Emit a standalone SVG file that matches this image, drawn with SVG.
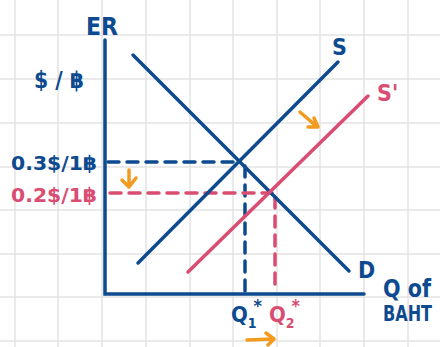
<svg xmlns="http://www.w3.org/2000/svg" width="440" height="347" viewBox="0 0 440 347">
<style>
.grid{stroke:#e3e3e3;stroke-width:1.5}
.blue{stroke:#0d4a8f;stroke-width:3.5;fill:none;stroke-linecap:round}
.pink{stroke:#d94d72;stroke-width:3.5;fill:none;stroke-linecap:round}
.dash{stroke-dasharray:11 8}
.orange{stroke:#f29b1e;stroke-width:3.5;fill:none;stroke-linecap:round;stroke-linejoin:round}
text{font-family:"DejaVu Sans Condensed","DejaVu Sans",sans-serif;font-weight:bold}
.tb{fill:#0d4a8f}
.tp{fill:#d94d72}
</style>
<rect width="440" height="347" fill="#ffffff"/>
<g id="grid">
<path class="grid" d="M15 0V347M58 0V347M102 0V347M146 0V347M190 0V347M233 0V347M277 0V347M320 0V347M364 0V347M408 0V347M0 35H440M0 79H440M0 123H440M0 167H440M0 210H440M0 254H440M0 297H440M0 341H440"/>
</g>
<g id="axes">
<path class="blue" d="M105 40V294H364"/>
<text class="tb" x="86" y="35" font-size="24" textLength="32" lengthAdjust="spacingAndGlyphs">ER</text>
<text class="tb" x="34" y="88" font-size="23" textLength="50" lengthAdjust="spacingAndGlyphs">$ / ฿</text>
<text class="tb" x="383" y="297" font-size="24" textLength="48" lengthAdjust="spacingAndGlyphs">Q of</text>
<text class="tb" x="383" y="321" font-size="21" textLength="49" lengthAdjust="spacingAndGlyphs">BAHT</text>
</g>
<g id="connectors">
<path class="blue dash" d="M108 162H240"/>
<path class="blue dash" d="M245 166V292"/>
<path class="pink dash" d="M110 193H272"/>
<path class="pink dash" d="M275 197V290"/>
</g>
<g id="demand">
<path class="blue" d="M133 55L349 271"/>
<text class="tb" x="358" y="278" font-size="23">D</text>
</g>
<g id="supply">
<path class="blue" d="M138 263L338 62"/>
<text class="tb" x="332" y="55" font-size="23">S</text>
</g>
<g id="supply2">
<path class="pink" d="M188 272L368 96"/>
<text class="tp" x="377" y="101" font-size="23">S'</text>
</g>
<g id="labels">
<text class="tb" x="11" y="170" font-size="20" textLength="86" lengthAdjust="spacingAndGlyphs">0.3$/1฿</text>
<text class="tp" x="11" y="202" font-size="20" textLength="86" lengthAdjust="spacingAndGlyphs">0.2$/1฿</text>
<text class="tb" x="231" y="322" font-size="22">Q<tspan font-size="14" dy="6">1</tspan><tspan font-size="18" dx="-3" dy="-16">*</tspan></text>
<text class="tp" x="269" y="322" font-size="22">Q<tspan font-size="14" dy="6">2</tspan><tspan font-size="18" dx="-3" dy="-16">*</tspan></text>
</g>
<g id="shifts">
<path class="orange" d="M129 170V186M122 180L129 187L136 178"/>
<path class="orange" d="M300 112L315 125M308 127L318 127L314 118"/>
<path class="orange" d="M247 340L272 339M266 333L274 339L268 345"/>
</g>
</svg>
